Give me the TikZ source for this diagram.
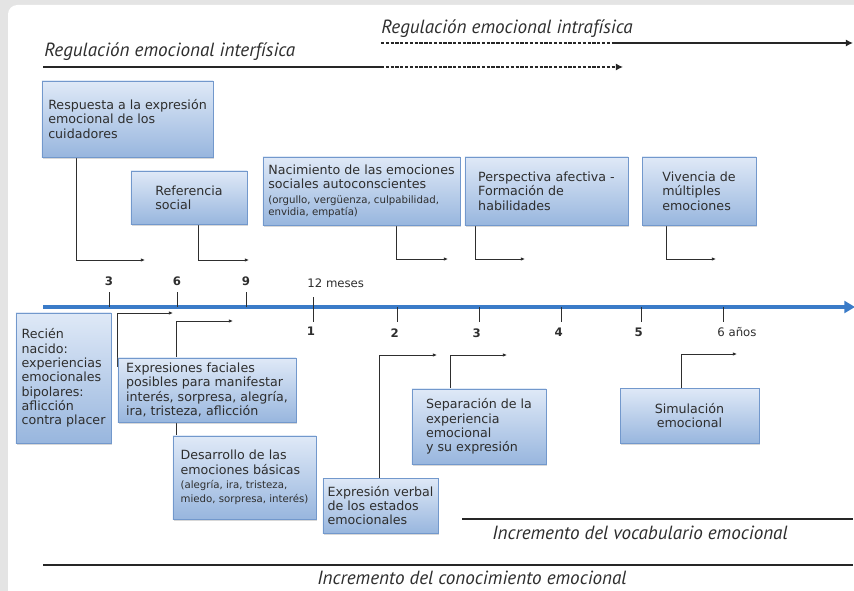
\documentclass[tikz,border=0pt]{standalone}
\usepackage{fontspec}
\setmainfont{DejaVu Sans}
\newfontfamily\rotulofont{PT Sans}
\usepackage{tikz}
\usetikzlibrary{arrows.meta,shadows,calc}
\definecolor{boxtop}{HTML}{DFE9F7}
\definecolor{boxbot}{HTML}{98B6DE}
\definecolor{boxline}{HTML}{7298CC}
\definecolor{axisblue}{HTML}{3A7BC8}
\definecolor{txt}{HTML}{2E2E2E}
\definecolor{bggray}{HTML}{E4E4E4}
\newcommand\chico{\fontsize{8.7}{10}\selectfont}
\pgfdeclarelayer{panel}
\pgfdeclarelayer{links}
\pgfsetlayers{panel,links,main}

\begin{document}
\begin{tikzpicture}[x=0.03cm,y=-0.03cm,
  etapa/.style={draw=boxline, line width=0.6pt, top color=boxtop, bottom color=boxbot,
    text=txt, align=left, inner sep=2pt, font=\fontsize{10.8}{12.2}\selectfont,
    drop shadow={opacity=0.3, shadow xshift=1pt, shadow yshift=-1.3pt}},
  enlace/.style={draw=txt, line width=0.7pt, -{Latex[length=3.5pt,width=3pt]}},
  regla/.style={draw=black!85, line width=1.9pt},
  trazos/.style={dash pattern=on 2.8pt off 1.3pt},
  rotulo/.style={font=\rotulofont\itshape\fontsize{16.3}{18}\selectfont, text=txt, inner sep=1pt},
  eje/.style={draw=axisblue, line width=2.6pt, -{Triangle[length=9pt,width=10pt]}},
  marca/.style={draw=txt, line width=0.8pt},
  cifra/.style={font=\fontsize{10}{12}\selectfont\bfseries, text=txt, inner sep=1pt},
  mes/.style={font=\fontsize{10}{12}\selectfont, text=txt, inner sep=1pt}]

  \useasboundingbox (0,0) rectangle (854,591);
  \clip (0,0) rectangle (854,591);
  \begin{pgfonlayer}{panel}
    \fill[bggray] (0,0) rectangle (854,591);
    \fill[white, rounded corners=8pt] (8,5) rectangle (900,650);
  \end{pgfonlayer}

  \coordinate (ia) at (381,43);
  \coordinate (ib) at (612,43);
  \coordinate (ic) at (853,43);
  \coordinate (ea) at (43,67);
  \coordinate (eb) at (381,67);
  \coordinate (ec) at (623,67);
  \node[rotulo, anchor=south west] (intra) at (380,39) {Regulación emocional intrafísica};
  \node[rotulo, anchor=south west] (inter) at (43,62) {Regulación emocional interfísica};
  \draw[regla, trazos] (ia) -- (ib);
  \draw[regla, -{Latex[length=6pt,width=6pt]}] (ib) -- (ic);
  \draw[regla] (ea) -- (eb);
  \draw[regla, trazos, -{Latex[length=6pt,width=6pt]}] (eb) -- (ec);

  \node[etapa, minimum width=5.13cm, minimum height=2.28cm] (cuidadores) at (127.5,119)
    {Respuesta a la expresión\\emocional de los\\cuidadores};
  \node[etapa, minimum width=3.48cm, minimum height=1.59cm] (referencia) at (189,197.5)
    {Referencia\\social};
  \node[etapa, minimum width=5.91cm, minimum height=2.04cm] (autoconsc) at (361.5,191)
    {Nacimiento de las emociones\\sociales autoconscientes\\{\chico (orgullo, vergüenza, culpabilidad,}\\[-2pt]{\chico envidia, empatía)}};
  \node[etapa, minimum width=4.89cm, minimum height=2.04cm] (perspectiva) at (546.5,191)
    {Perspectiva afectiva -\\Formación de\\habilidades};
  \node[etapa, minimum width=3.42cm, minimum height=2.04cm] (vivencia) at (699,191)
    {Vivencia de\\múltiples\\emociones};
  \node[etapa, minimum width=2.85cm, minimum height=3.90cm] (recien) at (63.5,378)
    {Recién\\nacido:\\experiencias\\emocionales\\bipolares:\\aflicción\\contra placer};
  \node[etapa, minimum width=5.34cm, minimum height=1.92cm] (faciales) at (207,390)
    {Expresiones faciales\\posibles para manifestar\\interés, sorpresa, alegría,\\ira, tristeza, aflicción};
  \node[etapa, minimum width=4.29cm, minimum height=2.49cm] (basicas) at (244.5,477.5)
    {Desarrollo de las\\emociones básicas\\{\chico (alegría, ira, tristeza,}\\{\chico miedo, sorpresa, interés)}};
  \node[etapa, minimum width=3.45cm, minimum height=1.65cm] (verbal) at (380.5,505.5)
    {Expresión verbal\\de los estados\\emocionales};
  \node[etapa, minimum width=4.02cm, minimum height=2.25cm] (separacion) at (479,426.5)
    {Separación de la\\experiencia\\emocional\\y su expresión};
  \node[etapa, align=center, minimum width=4.17cm, minimum height=1.65cm] (simulacion) at (689.5,415.5)
    {Simulación\\emocional};

  \coordinate (p1) at (145,260);
  \coordinate (p2) at (249,260);
  \coordinate (p3) at (448,259);
  \coordinate (p4) at (525,259);
  \coordinate (p5) at (716,259);
  \coordinate (p7) at (173,313);
  \coordinate (p8) at (233,321);
  \coordinate (p9) at (437,355);
  \coordinate (p10) at (507,355);
  \coordinate (p11) at (737,354);
  \begin{pgfonlayer}{links}
    \draw[enlace] ($(cuidadores.south west)+(35,0)$) |- (p1);
    \draw[enlace] ($(referencia.south west)+(68,0)$) |- (p2);
    \draw[enlace] ($(autoconsc.south west)+(134,0)$) |- (p3);
    \draw[enlace] ($(perspectiva.south west)+(11,0)$) |- (p4);
    \draw[enlace] ($(vivencia.south west)+(25,0)$) |- (p5);
    \draw[enlace] ($(faciales.north west)+(0,9)$) |- (p7);
    \draw[enlace] ($(basicas.north west)+(4,0)$) |- (p8);
    \draw[enlace] ($(verbal.north west)+(57,0)$) |- (p9);
    \draw[enlace] ($(separacion.north west)+(39,0)$) |- (p10);
    \draw[enlace] ($(simulacion.north west)+(62,0)$) |- (p11);
  \end{pgfonlayer}

  \coordinate (ejeA) at (43,307);
  \coordinate (ejeB) at (855,307);
  \draw[eje] (ejeA) -- (ejeB);
  \foreach \x/\m in {109/3,177/6,246/9}
    \draw[marca] (\x,292) -- (\x,307) node[cifra, pos=0, above=4pt] (m\m) {\m};
  \draw[marca] (313,297) -- (313,322);
  \node[mes, anchor=south west] (doce) at (306,289) {12 meses};
  \node[cifra, anchor=north] (a1) at (311,326) {1};
  \foreach \x/\a in {397/2,479/3,561/4,641/5}
    \draw[marca] (\x,307) -- (\x,322) node[cifra, pos=1, below=4pt, xshift=-2pt] (a\a) {\a};
  \draw[marca] (723,307) -- (723,322);
  \node[mes, anchor=north west] (seis) at (716,326) {6 años};

  \coordinate (va) at (462,519);
  \coordinate (vb) at (853,519);
  \coordinate (ca) at (43,565);
  \coordinate (cb) at (853,565);
  \draw[regla] (va) -- (vb);
  \draw[regla] (ca) -- (cb);
  \node[rotulo] (vocab) at (640,533) {Incremento del vocabulario emocional};
  \node[rotulo] (conoc) at (472,578) {Incremento del conocimiento emocional};
\end{tikzpicture}
\end{document}
